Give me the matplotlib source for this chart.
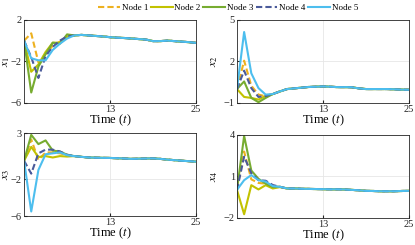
import numpy as np
import matplotlib
matplotlib.use("Agg")
import matplotlib.pyplot as plt

plt.rcParams['font.family'] = ['Liberation Serif', 'DejaVu Serif']
plt.rcParams['mathtext.fontset'] = 'stix'

# time steps
t = np.arange(1, 26)

# shared tails (t = 8 .. 25)
tail_x1 = [0.5, 0.55, 0.5, 0.45, 0.4, 0.33, 0.28, 0.25, 0.2, 0.15, 0.1, -0.05, -0.05, 0.0, -0.05, -0.1, -0.15, -0.22]
tail_x2 = [0.0, 0.05, 0.1, 0.15, 0.17, 0.19, 0.17, 0.14, 0.14, 0.13, 0.05, 0.0, 0.0, 0.0, 0.0, -0.02, -0.04, -0.05]
tail_x3 = [0.5, 0.42, 0.35, 0.33, 0.31, 0.3, 0.27, 0.24, 0.2, 0.22, 0.24, 0.25, 0.2, 0.12, 0.06, 0.0, -0.05, -0.1]
tail_x4 = [0.1, 0.1, 0.08, 0.07, 0.06, 0.05, 0.04, 0.04, 0.03, 0.0, -0.03, -0.07, -0.08, -0.1, -0.1, -0.1, -0.08, -0.07]

# first 7 steps per node
head_x1 = {
    "Node 1": [0.0, 0.7, -2.1, -1.3, -0.5, -0.1, 0.3],
    "Node 2": [0.0, -3.0, -2.3, -1.1, -0.2, -0.2, 0.4],
    "Node 3": [0.0, -5.0, -2.5, -1.3, -0.2, -0.3, 0.6],
    "Node 4": [0.0, -1.6, -3.6, -1.5, -0.6, 0.0, 0.4],
    "Node 5": [0.0, -1.7, -1.9, -1.9, -0.9, -0.3, 0.2],
}
head_x2 = {
    "Node 1": [0.0, 2.05, 0.24, -0.4, -0.52, -0.36, -0.17],
    "Node 2": [0.0, -0.57, -0.64, -0.76, -0.5, -0.36, -0.17],
    "Node 3": [0.0, 0.55, -0.64, -0.95, -0.64, -0.36, -0.17],
    "Node 4": [0.0, 1.33, 0.07, -0.57, -0.5, -0.36, -0.17],
    "Node 5": [0.0, 4.12, 1.14, 0.07, -0.4, -0.36, -0.17],
}
head_x3 = {
    "Node 1": [0.0, 2.3, 0.1, 0.9, 0.9, 0.8, 0.6],
    "Node 2": [0.0, 1.5, 0.4, 0.5, 0.35, 0.5, 0.45],
    "Node 3": [0.0, 2.8, 1.8, 2.2, 1.1, 1.0, 0.65],
    "Node 4": [0.0, -1.4, 0.8, 1.2, 1.2, 1.0, 0.65],
    "Node 5": [0.0, -5.5, -1.0, 0.7, 0.8, 0.9, 0.6],
}
head_x4 = {
    "Node 1": [0.0, 2.77, 0.76, 0.5, 0.45, 0.25, 0.22],
    "Node 2": [0.0, -1.76, 0.34, 0.03, 0.34, 0.1, 0.2],
    "Node 3": [0.0, 3.9, 1.4, 0.8, 0.45, 0.2, 0.22],
    "Node 4": [0.0, 2.4, 1.2, 0.7, 0.66, 0.35, 0.22],
    "Node 5": [0.0, 0.7, 1.07, 0.7, 0.6, 0.27, 0.22],
}

nodes = ["Node 1", "Node 2", "Node 3", "Node 4", "Node 5"]
colors = ["#EDB120", "#C2C200", "#77AC30", "#4A5A9A", "#4DBEEE"]
styles = ["--", "-", "-", "--", "-"]

panels = [
    (head_x1, tail_x1, r"$x_1$", (-6, 2), [-6, -2, 2]),
    (head_x2, tail_x2, r"$x_2$", (-1, 5), [-1, 2, 5]),
    (head_x3, tail_x3, r"$x_3$", (-6, 3), [-6, -2, 3]),
    (head_x4, tail_x4, r"$x_4$", (-2, 4), [-2, 1, 4]),
]

fig = plt.figure(figsize=(4.15, 2.45), dpi=100)
rects = [
    [0.058, 0.580, 0.4145, 0.339],
    [0.571, 0.580, 0.4145, 0.339],
    [0.058, 0.118, 0.4145, 0.339],
    [0.571, 0.112, 0.4145, 0.339],
]
label_x = [-0.07, -0.1, -0.07, -0.1]

for rect, lx, (head, tail, lab, ylim, yticks) in zip(rects, label_x, panels):
    ax = fig.add_axes(rect)
    for name, c, ls in zip(nodes, colors, styles):
        y = head[name] + tail
        ax.plot(t, y, color=c, ls=ls, lw=1.5, label=name, dashes=(3, 1.5) if ls == "--" else (None, None))
    ax.set_xlim(1, 25)
    ax.set_ylim(*ylim)
    ax.set_xticks([13, 25])
    ax.set_yticks(yticks)
    ax.grid(True, color="#e6e6e6", lw=0.6)
    ax.tick_params(direction="in", length=2, labelsize=7.5, pad=1.5, colors="#262626")
    for s in ax.spines.values():
        s.set_color("#262626")
        s.set_linewidth(0.6)
    ax.set_xlabel(r"Time ($t$)", fontsize=9, labelpad=-1)
    ax.set_ylabel(lab, fontsize=8.5)
    ax.yaxis.set_label_coords(lx, 0.5)

handles, labels = fig.axes[0].get_legend_handles_labels()
fig.legend(handles, labels, loc="center", bbox_to_anchor=(0.55, 0.968), ncol=5,
           frameon=False, fontsize=6.5, handlelength=2.4, handletextpad=0.2,
           columnspacing=0.3, borderpad=0)

fig.savefig("out.png", dpi=100)
